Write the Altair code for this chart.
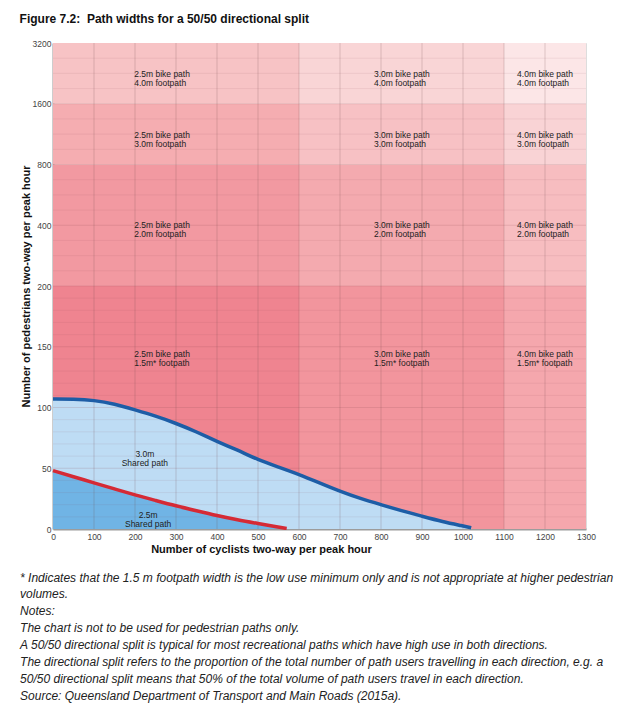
import altair as alt
import pandas as pd

# ---- data ----
col_edges = [0, 600, 1100, 1300]
row_edges = [0, 200, 800, 1600, 3200]
bike_widths = ["2.5m", "3.0m", "4.0m"]
foot_widths = ["1.5m*", "2.0m", "3.0m", "4.0m"]
cell_colors = [
    ["#EF8490", "#F299A1", "#F5ADB1", "#F7C3C5"],
    ["#F2959D", "#F4AAAF", "#F7C1C4", "#F9D5D6"],
    ["#F5A7AD", "#F7BDC0", "#F9D3D5", "#FCE6E7"],
]
label_x = [198, 783, 1132]
label_y = [144, 400, 1195, 2390]

y_ticks = [0, 50, 100, 150, 200, 400, 800, 1600, 3200]
x_ticks = list(range(0, 1301, 100))
v_grid = list(range(100, 1201, 100))
h_minor = [v for v in range(10, 200, 10) if v % 50 != 0] + [
    250, 300, 350, 500, 600, 700, 1000, 1200, 1400, 2000, 2400, 2800]
h_major = [50, 100, 150, 200, 400, 800, 1600]

blue_x = [0, 50, 100, 150, 200, 250, 300, 350, 400, 450, 500, 550, 600,
          650, 700, 750, 800, 850, 900, 950, 1000, 1020]
blue_y = [107, 107, 106, 103, 98, 93, 87, 80, 72, 65, 57, 51, 45,
          38, 31, 25, 20, 15, 10.5, 6, 2.5, 1]
red_x = [0, 50, 100, 150, 200, 250, 300, 350, 400, 450, 500, 550, 570]
red_y = [48, 43, 38, 33, 28, 23.5, 19, 15, 11, 7.5, 4.5, 1.5, 0.5]

shared_labels = ["3.0m\nShared path", "2.5m\nShared path"]
shared_x = [224, 232]
shared_y = [61.7, 11.5]

title_text = "Figure 7.2:\u00a0 Path widths for a 50/50 directional split"
notes = [
    "* Indicates that the 1.5 m footpath width is the low use minimum only and is not appropriate at higher pedestrian",
    "volumes.",
    "Notes:",
    "The chart is not to be used for pedestrian paths only.",
    "A 50/50 directional split is typical for most recreational paths which have high use in both directions.",
    "The directional split refers to the proportion of the total number of path users travelling in each direction, e.g. a",
    "50/50 directional split means that 50% of the total volume of path users travel in each direction.",
    "Source: Queensland Department of Transport and Main Roads (2015a).",
]

# ---- tables ----
cells = []
for i in range(3):
    for j in range(4):
        cells.append(dict(x=col_edges[i], x2=col_edges[i + 1],
                          y=row_edges[j], y2=row_edges[j + 1],
                          fill=cell_colors[i][j],
                          lx=label_x[i], ly=label_y[j],
                          label=f"{bike_widths[i]} bike path\n{foot_widths[j]} footpath"))
cells = pd.DataFrame(cells)
blue = pd.DataFrame({"x": blue_x, "y": blue_y})
red = pd.DataFrame({"x": red_x, "y": red_y})
shared = pd.DataFrame({"x": shared_x, "y": shared_y, "label": shared_labels})

W, H = 533, 486
step = H / (len(y_ticks) - 1)
yscale = alt.Scale(domain=y_ticks, range=[H - i * step for i in range(len(y_ticks))], nice=False, zero=False)
xscale = alt.Scale(domain=[0, 1300], nice=False, zero=False)

FONT = "Liberation Sans"

xaxis = alt.Axis(values=x_ticks, format="d", grid=False, ticks=False, domainColor="#9c9c9c", domainWidth=2,
                 labelFontSize=8.5, labelColor="#444", labelPadding=3, labelFont=FONT, labelFlush=False,
                 title="Number of cyclists two-way per peak hour", titleFontSize=11, titleFont=FONT,
                 titleFontWeight="bold", titleColor="#111", titlePadding=3, titleX=208)
yaxis = alt.Axis(values=y_ticks, format="d", grid=False, ticks=False, domainColor="#9c9c9c", domainWidth=2,
                 labelFontSize=8.5, labelColor="#444", labelPadding=2, labelFont=FONT, labelFlush=False,
                 title="Number of pedestrians two-way per peak hour", titleFontSize=11, titleFont=FONT,
                 titleFontWeight="bold", titleColor="#111", titlePadding=1)

rects = alt.Chart(cells).mark_rect().encode(
    x=alt.X("x:Q", scale=xscale, axis=xaxis),
    x2="x2:Q",
    y=alt.Y("y:Q", scale=yscale, axis=yaxis),
    y2="y2:Q",
    color=alt.Color("fill:N", scale=None),
)

area_blue = alt.Chart(blue).mark_area(interpolate="basis", color="#BEDCF4").encode(
    x=alt.X("x:Q", scale=xscale), y=alt.Y("y:Q", scale=yscale))
area_red = alt.Chart(red).mark_area(interpolate="basis", color="#70B4E5").encode(
    x=alt.X("x:Q", scale=xscale), y=alt.Y("y:Q", scale=yscale))

vgrid = alt.Chart(pd.DataFrame({"x": v_grid})).mark_rule(color="#6e4a4a", opacity=0.28, strokeWidth=0.8).encode(
    x=alt.X("x:Q", scale=xscale))
hminor = alt.Chart(pd.DataFrame({"y": h_minor})).mark_rule(color="#8a4a52", opacity=0.12, strokeWidth=0.8).encode(
    y=alt.Y("y:Q", scale=yscale))
hmajor = alt.Chart(pd.DataFrame({"y": h_major})).mark_rule(color="#8a4a52", opacity=0.22, strokeWidth=0.8).encode(
    y=alt.Y("y:Q", scale=yscale))

line_blue = alt.Chart(blue).mark_line(interpolate="basis", color="#1D5DA6", strokeWidth=3.5).encode(
    x=alt.X("x:Q", scale=xscale), y=alt.Y("y:Q", scale=yscale))
line_red = alt.Chart(red).mark_line(interpolate="basis", color="#D52A35", strokeWidth=3.5).encode(
    x=alt.X("x:Q", scale=xscale), y=alt.Y("y:Q", scale=yscale))

cell_text = alt.Chart(cells).mark_text(align="left", baseline="middle", lineBreak="\n", lineHeight=9,
                                       fontSize=8.5, font=FONT, color="#222").encode(
    x=alt.X("lx:Q", scale=xscale), y=alt.Y("ly:Q", scale=yscale), text="label:N")
shared_text = alt.Chart(shared).mark_text(align="center", baseline="middle", lineBreak="\n", lineHeight=9,
                                          fontSize=8.5, font=FONT, color="#222").encode(
    x=alt.X("x:Q", scale=xscale), y=alt.Y("y:Q", scale=yscale), text="label:N")

plot = alt.layer(rects, area_blue, area_red, vgrid, hminor, hmajor, line_blue, line_red,
                 cell_text, shared_text).properties(
    width=W, height=H,
    title=alt.TitleParams(text=notes, orient="bottom", anchor="start", frame="bounds",
                          font=FONT, fontSize=12, fontStyle="italic", fontWeight="normal",
                          lineHeight=16.9, color="#222", offset=18),
)

chart = alt.vconcat(plot).properties(
    title=alt.TitleParams(text=title_text, anchor="start", frame="bounds", font=FONT,
                          fontSize=12, fontWeight="bold", color="#111", offset=13),
    padding={"left": 11, "top": 4, "right": 5, "bottom": 5},
).configure_view(stroke=None).configure(background="white")

chart.save("out.html", embed_options={"renderer": "svg", "actions": False})
